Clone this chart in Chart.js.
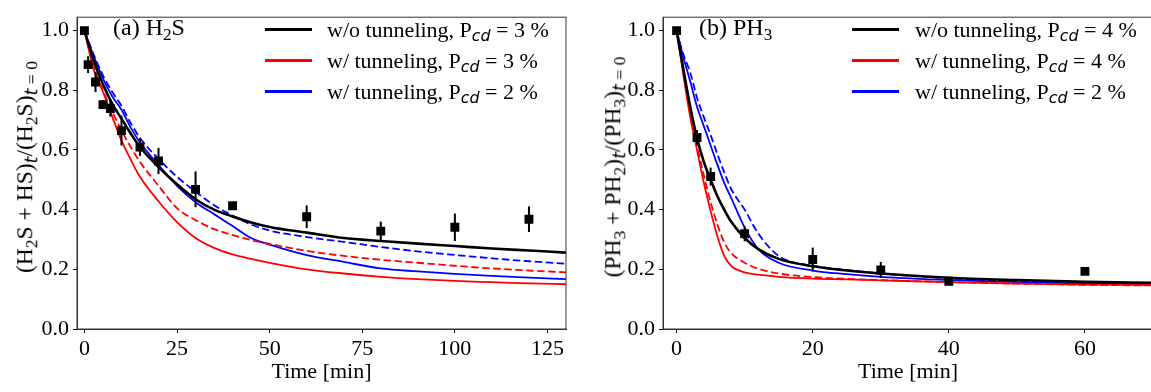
<!DOCTYPE html>
<html>
<head>
<meta charset="utf-8">
<script src="https://cdn.jsdelivr.net/npm/chart.js@4.4.1/dist/chart.umd.min.js"></script>
<style>
  html, body { margin: 0; padding: 0; background: #fff; overflow: hidden; width: 1151px; height: 392px; position: relative; }
  canvas { position: absolute; top: 0; }
  .txt { position: absolute; font-family: "Liberation Serif", "Times New Roman", serif; font-size: 22px; color: #000; white-space: nowrap; line-height: 1; }
  .m { font-family: "DejaVu Sans", sans-serif; font-style: italic; }
  .txt sub { font-size: 0.72em; vertical-align: -0.28em; line-height: 0; }
  .ytitle { font-size: 23.5px; transform: translate(-50%, -50%) rotate(-90deg); }
  .ytitle sub { font-size: 0.75em; }
  .lab { font-size: 24px; }
  .key { position: absolute; height: 0; border-top: 3.5px solid; }
</style>
</head>
<body>
<canvas id="h2s" width="575" height="392" style="left:0"></canvas>
<canvas id="ph3" width="580" height="392" style="left:580px"></canvas>

<div class="txt ytitle" style="left:25px; top:167px">(H<sub>2</sub>S + HS)<sub class="m">t</sub>/(H<sub>2</sub>S)<sub><span class="m">t</span> = 0</sub></div>
<div class="txt lab" style="left:113px; top:15px">(a) H<sub>2</sub>S</div>
<div class="key" style="left:265px; width:47px; top:28px; border-color:#000"></div>
<div class="key" style="left:265px; width:47px; top:59px; border-color:#f00"></div>
<div class="key" style="left:265px; width:47px; top:90px; border-color:#00f"></div>
<div class="txt" style="left:327px; top:19px">w/o tunneling, P<sub class="m">cd</sub> = 3 %</div>
<div class="txt" style="left:327px; top:50px">w/ tunneling, P<sub class="m">cd</sub> = 3 %</div>
<div class="txt" style="left:327px; top:81px">w/ tunneling, P<sub class="m">cd</sub> = 2 %</div>

<div class="txt ytitle" style="left:613px; top:167px">(PH<sub>3</sub> + PH<sub>2</sub>)<sub class="m">t</sub>/(PH<sub>3</sub>)<sub><span class="m">t</span> = 0</sub></div>
<div class="txt lab" style="left:699px; top:15px">(b) PH<sub>3</sub></div>
<div class="key" style="left:852px; width:47px; top:28px; border-color:#000"></div>
<div class="key" style="left:852px; width:47px; top:59px; border-color:#f00"></div>
<div class="key" style="left:852px; width:47px; top:90px; border-color:#00f"></div>
<div class="txt" style="left:915px; top:19px">w/o tunneling, P<sub class="m">cd</sub> = 4 %</div>
<div class="txt" style="left:915px; top:50px">w/ tunneling, P<sub class="m">cd</sub> = 4 %</div>
<div class="txt" style="left:915px; top:81px">w/ tunneling, P<sub class="m">cd</sub> = 2 %</div>

<script>
// Mesures H2S (points noirs + barres d'erreur)
const h2sTime = [0, 1, 3, 5, 7, 10, 15, 20, 30, 40, 60, 80, 100, 120];
const h2sValue = [1.0, 0.886, 0.828, 0.752, 0.739, 0.665, 0.610, 0.563, 0.468, 0.413, 0.376, 0.328, 0.341, 0.368];
const h2sError = [0, 0.028, 0.034, 0.015, 0.027, 0.05, 0.03, 0.044, 0.06, 0.01, 0.038, 0.032, 0.046, 0.043];

// Modèles H2S
const h2sModelTime = [0, 2.5, 5, 7.5, 10, 12.5, 15, 20, 25, 30, 35, 40, 45, 50, 60, 70, 80, 90, 100, 110, 120, 130];
const h2sNoTunnel3 = [1, 0.90, 0.82, 0.755, 0.705, 0.655, 0.61, 0.543, 0.485, 0.435, 0.40, 0.377, 0.357, 0.342, 0.323, 0.305, 0.295, 0.286, 0.278, 0.27, 0.263, 0.256];
const h2sTunnel3 = [1, 0.87, 0.795, 0.712, 0.632, 0.568, 0.51, 0.428, 0.358, 0.305, 0.272, 0.25, 0.235, 0.222, 0.20, 0.186, 0.175, 0.167, 0.161, 0.157, 0.153, 0.15];
const h2sTunnel3Dash = [1, 0.88, 0.80, 0.73, 0.665, 0.61, 0.56, 0.48, 0.405, 0.365, 0.335, 0.315, 0.298, 0.285, 0.262, 0.245, 0.232, 0.222, 0.212, 0.203, 0.196, 0.19];
const h2sTunnel2 = [1, 0.915, 0.84, 0.78, 0.735, 0.675, 0.625, 0.55, 0.48, 0.425, 0.385, 0.345, 0.305, 0.283, 0.248, 0.225, 0.203, 0.193, 0.185, 0.178, 0.172, 0.167];
const h2sTunnel2Dash = [1, 0.92, 0.85, 0.795, 0.748, 0.69, 0.64, 0.57, 0.51, 0.46, 0.415, 0.38, 0.35, 0.33, 0.308, 0.292, 0.275, 0.26, 0.248, 0.237, 0.227, 0.219];

// Mesures PH3
const ph3Time = [0, 3, 5, 10, 20, 30, 40, 60];
const ph3Value = [1.0, 0.642, 0.511, 0.319, 0.233, 0.198, 0.16, 0.193];
const ph3Error = [0, 0.025, 0.03, 0.025, 0.04, 0.027, 0.008, 0.012];

// Modèles PH3
const ph3ModelTime = [0, 1, 2, 3, 4, 5, 6, 7, 8, 10, 12, 15, 20, 25, 30, 40, 50, 60, 70];
const ph3NoTunnel4 = [1, 0.87, 0.745, 0.64, 0.56, 0.50, 0.445, 0.40, 0.36, 0.305, 0.268, 0.235, 0.21, 0.196, 0.186, 0.172, 0.164, 0.158, 0.155];
const ph3Tunnel4 = [1, 0.85, 0.71, 0.60, 0.49, 0.395, 0.31, 0.245, 0.212, 0.19, 0.182, 0.175, 0.169, 0.166, 0.163, 0.157, 0.152, 0.149, 0.147];
const ph3Tunnel4Dash = [1, 0.86, 0.72, 0.615, 0.515, 0.425, 0.35, 0.29, 0.255, 0.222, 0.202, 0.186, 0.174, 0.168, 0.164, 0.157, 0.152, 0.148, 0.146];
const ph3Tunnel2 = [1, 0.91, 0.83, 0.745, 0.68, 0.615, 0.55, 0.49, 0.44, 0.34, 0.268, 0.222, 0.196, 0.184, 0.175, 0.164, 0.157, 0.152, 0.15];
const ph3Tunnel2Dash = [1, 0.92, 0.86, 0.775, 0.71, 0.65, 0.585, 0.525, 0.47, 0.40, 0.32, 0.245, 0.212, 0.198, 0.186, 0.17, 0.16, 0.153, 0.15];

// Graduations
const h2sTicksX = [0, 25, 50, 75, 100, 125];
const ph3TicksX = [0, 20, 40, 60];
const ticksY = [0, 0.2, 0.4, 0.6, 0.8, 1.0];

const font = { family: "'Liberation Serif', 'Times New Roman', serif", size: 22 };

function pts(xs, ys) {
    return xs.map((x, i) => ({ x: x, y: ys[i] }));
}

function curve(xs, ys, color, width, dashed) {
    return {
        data: pts(xs, ys),
        borderColor: color,
        borderWidth: width,
        borderDash: dashed ? [7.5, 3.5] : [],
        pointRadius: 0,
        fill: false,
        cubicInterpolationMode: "monotone",
    };
}

// barres d'erreur + cadre complet
const errorsAndFrame = {
    id: "errorsAndFrame",
    afterDatasetsDraw(chart, args, opts) {
        const { ctx, chartArea: a, scales: { x, y } } = chart;
        ctx.save();
        ctx.strokeStyle = "#000";
        ctx.lineWidth = 2;
        opts.t.forEach((t, i) => {
            if (!opts.e[i]) return;
            const px = x.getPixelForValue(t);
            ctx.beginPath();
            ctx.moveTo(px, y.getPixelForValue(opts.v[i] - opts.e[i]));
            ctx.lineTo(px, y.getPixelForValue(opts.v[i] + opts.e[i]));
            ctx.stroke();
        });
        ctx.strokeStyle = "#333";
        ctx.lineWidth = 1;
        ctx.strokeRect(a.left, a.top, a.right - a.left, a.bottom - a.top);
        ctx.restore();
    },
};

function panel(id, t, v, e, modelT, curves, xMax, xTicks, yWidth, padRight) {
    const ctx = document.getElementById(id).getContext("2d");
    return new Chart(ctx, {
        type: "line",
        data: {
            datasets: [
                {
                    data: pts(t, v),
                    showLine: false,
                    pointStyle: "rect",
                    pointRadius: 6.3,
                    pointBackgroundColor: "#000",
                    pointBorderWidth: 0,
                },
                curve(modelT, curves[0], "#000", 2.6, false),
                curve(modelT, curves[1], "#ff0000", 1.8, false),
                curve(modelT, curves[2], "#ff0000", 1.8, true),
                curve(modelT, curves[3], "#0000ff", 1.8, false),
                curve(modelT, curves[4], "#0000ff", 1.8, true),
            ],
        },
        options: {
            responsive: false,
            animation: false,
            layout: { padding: { top: 3, right: padRight, left: 0, bottom: 0 } },
            plugins: {
                legend: { display: false },
                tooltip: { enabled: false },
                errorsAndFrame: { t: t, v: v, e: e },
            },
            scales: {
                x: {
                    type: "linear",
                    min: -2,
                    max: xMax,
                    afterBuildTicks: (s) => { s.ticks = xTicks.map((val) => ({ value: val })); },
                    afterFit: (s) => { s.height = 63; },
                    grid: { drawOnChartArea: false, tickLength: 4, color: "#000" },
                    border: { color: "#333" },
                    ticks: { font: font, color: "#000", padding: 3, maxRotation: 0 },
                    title: { display: true, text: "Time [min]", font: font, color: "#000", padding: { top: 0, bottom: 7 } },
                },
                y: {
                    min: 0,
                    max: 1.045,
                    afterBuildTicks: (s) => { s.ticks = ticksY.map((val) => ({ value: val })); },
                    afterFit: (s) => { s.width = yWidth; },
                    grid: { drawOnChartArea: false, tickLength: 4, color: "#000" },
                    border: { color: "#333" },
                    ticks: { font: font, color: "#000", padding: 4, callback: (val) => val.toFixed(1) },
                },
            },
        },
        plugins: [errorsAndFrame],
    });
}

document.addEventListener("DOMContentLoaded", () => {
    panel("h2s", h2sTime, h2sValue, h2sError, h2sModelTime,
        [h2sNoTunnel3, h2sTunnel3, h2sTunnel3Dash, h2sTunnel2, h2sTunnel2Dash],
        130, h2sTicksX, 77, 9);
    panel("ph3", ph3Time, ph3Value, ph3Error, ph3ModelTime,
        [ph3NoTunnel4, ph3Tunnel4, ph3Tunnel4Dash, ph3Tunnel2, ph3Tunnel2Dash],
        70, ph3TicksX, 83, 7);
});
</script>
</body>
</html>
